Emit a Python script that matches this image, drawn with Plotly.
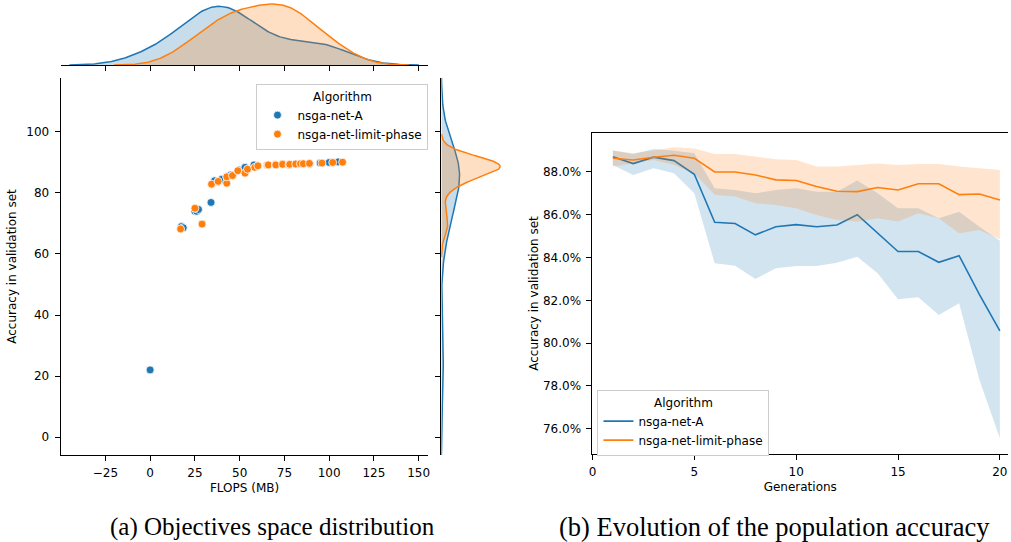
import numpy as np
import plotly.graph_objects as go

# ---------------- data ----------------
algorithms = ["nsga-net-A", "nsga-net-limit-phase"]

# (a) objectives space: FLOPS (MB) vs accuracy (overlapping individuals included)
a_flops = [0, 0, 17.5, 18.5, 25, 26, 27, 29, 34, 36, 38, 40, 42.8, 45, 46, 49, 50, 53, 58, 65.5, 74,
           81.3, 89, 95, 100, 105]
a_acc = [22.0, 22.0, 69.0, 68.6, 74.0, 74.0, 74.6, 69.8, 76.9, 84.0, 83.8, 84.5, 85.3, 85.9, 85.7, 87.3, 87.5,
         88.4, 89.2, 89.2, 89.5, 89.5, 89.7, 89.8, 90.0, 90.2]

lp_flops = [17, 25, 29, 34.3, 38, 42.8, 42.8, 46, 49, 53, 54.4, 58.5, 60.2, 65.5, 66, 70, 70.2, 74,
            77.6, 78, 81.3, 84, 85.6, 89, 96, 102, 107.5]
lp_acc = [68.2, 75.0, 69.8, 82.9, 83.8, 83.2, 85.3, 85.7, 87.3, 86.5, 87.8, 88.4, 88.9, 89.2, 89.2, 89.3,
          89.2, 89.4, 89.2, 89.4, 89.5, 89.6, 89.6, 89.7, 89.8, 90.0, 90.1]

# (b) evolution of population accuracy (%)
generations = list(range(1, 21))
a_mean = [88.71, 88.39, 88.69, 88.53, 87.89, 85.65, 85.59, 85.06, 85.44, 85.54,
          85.44, 85.52, 86.00, 85.16, 84.28, 84.28, 83.78, 84.09, 82.27, 80.57]
a_high = [89.00, 88.84, 89.07, 88.99, 88.87, 87.24, 87.16, 87.00, 87.16, 87.24,
          87.08, 87.08, 87.60, 87.00, 86.30, 86.30, 85.84, 86.14, 85.44, 84.79]
a_low = [88.33, 87.86, 88.17, 87.94, 87.00, 83.73, 83.62, 83.00, 83.50, 83.61,
         83.61, 83.76, 84.04, 83.27, 82.05, 82.14, 81.32, 81.86, 78.28, 75.56]
lp_mean = [88.64, 88.56, 88.69, 88.78, 88.64, 88.00, 88.00, 87.86, 87.63, 87.60,
           87.32, 87.10, 87.08, 87.27, 87.16, 87.45, 87.45, 86.94, 86.97, 86.69]
lp_high = [89.00, 88.87, 89.00, 89.15, 89.10, 88.84, 88.84, 88.71, 88.59, 88.56,
           88.25, 88.25, 88.33, 88.40, 88.33, 88.37, 88.37, 88.25, 88.17, 88.09]
lp_low = [88.25, 88.40, 88.56, 88.33, 87.94, 86.93, 86.85, 86.54, 86.46, 86.30,
          85.99, 85.76, 85.68, 85.84, 85.68, 86.07, 85.84, 85.13, 85.29, 84.85]

flops_ticks = [-25, 0, 25, 50, 75, 100, 125, 150]
acc_ticks = [0, 20, 40, 60, 80, 100]
gen_ticks = [0, 5, 10, 15, 20]
pct_ticks = [76, 78, 80, 82, 84, 86, 88]

# ---------------- style ----------------
BLUE = "#1f77b4"
ORANGE = "#ff7f0e"
BLUE_F = "rgba(31,119,180,0.25)"
ORANGE_F = "rgba(255,127,14,0.25)"
BLUE_B = "rgba(31,119,180,0.2)"
ORANGE_B = "rgba(255,127,14,0.2)"
FONT = "DejaVu Sans"
FS = 12
W, H = 1011, 542


def px_x(p):
    return p / W


def px_y(p):
    return 1 - p / H


def kde(values, n_total, cut=3, gridsize=200):
    v = np.asarray(values, float)
    n = len(v)
    bw = v.std(ddof=1) * n ** (-1 / 5)
    grid = np.linspace(v.min() - cut * bw, v.max() + cut * bw, gridsize)
    dens = np.exp(-0.5 * ((grid[:, None] - v[None, :]) / bw) ** 2).sum(1) / (n * bw * np.sqrt(2 * np.pi))
    return grid, dens * n / n_total


n_all = len(a_flops) + len(lp_flops)

fig = go.Figure()

# scatter
for xs, ys, col, name in [(a_flops, a_acc, BLUE, algorithms[0]), (lp_flops, lp_acc, ORANGE, algorithms[1])]:
    fig.add_trace(go.Scatter(x=xs, y=ys, mode="markers", name=name,
                             marker=dict(color=col, size=8, line=dict(color="white", width=0.8)),
                             xaxis="x", yaxis="y", legend="legend"))

# marginal KDEs
maxx = 0
maxy = 0
for xs, ys, col, fcol in [(a_flops, a_acc, BLUE, BLUE_F), (lp_flops, lp_acc, ORANGE, ORANGE_F)]:
    gx, dx = kde(xs, n_all)
    gy, dy = kde(ys, n_all)
    maxx = max(maxx, dx.max())
    maxy = max(maxy, dy.max())
    fig.add_trace(go.Scatter(x=gx, y=dx, mode="lines", fill="tozeroy", fillcolor=fcol,
                             line=dict(color=col, width=1.5), showlegend=False,
                             xaxis="x2", yaxis="y2", hoverinfo="skip"))
    fig.add_trace(go.Scatter(x=dy, y=gy, mode="lines", fill="tozerox", fillcolor=fcol,
                             line=dict(color=col, width=1.5), showlegend=False,
                             xaxis="x3", yaxis="y3", hoverinfo="skip"))

# line chart with bands
for mean, lo, hi, col, bcol, name in [(a_mean, a_low, a_high, BLUE, BLUE_B, algorithms[0]),
                                      (lp_mean, lp_low, lp_high, ORANGE, ORANGE_B, algorithms[1])]:
    fig.add_trace(go.Scatter(x=generations, y=hi, mode="lines", line=dict(width=0, color=bcol),
                             showlegend=False, xaxis="x4", yaxis="y4", hoverinfo="skip"))
    fig.add_trace(go.Scatter(x=generations, y=lo, mode="lines", line=dict(width=0, color=bcol),
                             fill="tonexty", fillcolor=bcol,
                             showlegend=False, xaxis="x4", yaxis="y4", hoverinfo="skip"))
    fig.add_trace(go.Scatter(x=generations, y=mean, mode="lines", name=name,
                             line=dict(color=col, width=1.6), xaxis="x4", yaxis="y4", legend="legend2"))

axis_common = dict(showgrid=False, zeroline=False, showline=True, linecolor="black", linewidth=1,
                   ticks="outside", ticklen=5, tickwidth=1, tickcolor="black",
                   tickfont=dict(family=FONT, size=FS, color="black"))

xr = [-50, 155.5]
yr = [-5.9, 117.7]
main_y_dom = [px_y(455), px_y(78)]

fig.update_layout(
    width=W, height=H, margin=dict(l=0, r=0, t=0, b=0),
    paper_bgcolor="white", plot_bgcolor="white",
    font=dict(family=FONT, size=FS, color="black"),
    xaxis=dict(domain=[px_x(57), px_x(427)], range=xr, tickvals=flops_ticks,
               ticktext=[str(t).replace("-", "\u2212") for t in flops_ticks], anchor="y",
               ticklabelstandoff=2,
               title=dict(text="FLOPS (MB)", font=dict(family=FONT, size=FS), standoff=4), **axis_common),
    yaxis=dict(domain=main_y_dom, range=yr, tickvals=acc_ticks, anchor="x", ticklabelstandoff=3,
               title=dict(text="Accuracy in validation set", font=dict(family=FONT, size=FS), standoff=7),
               **axis_common),
    xaxis2=dict(domain=[px_x(57), px_x(427)], range=xr, tickvals=flops_ticks, showticklabels=False,
                anchor="y2", **axis_common),
    yaxis2=dict(domain=[px_y(65), px_y(1)], range=[0, maxx * 1.05], visible=False, anchor="x2"),
    xaxis3=dict(domain=[px_x(440), px_x(502)], range=[0, maxy * 1.05], visible=False, anchor="y3"),
    yaxis3=dict(domain=main_y_dom, range=yr, tickvals=acc_ticks, showticklabels=False,
                anchor="x3", **axis_common),
    xaxis4=dict(domain=[px_x(592), px_x(1010)], range=[0, 20.4], tickvals=gen_ticks, anchor="y4",
                mirror=True, ticklabelstandoff=2,
                title=dict(text="Generations", font=dict(family=FONT, size=FS), standoff=4), **axis_common),
    yaxis4=dict(domain=[px_y(454), px_y(133)], range=[74.82, 89.82], tickvals=pct_ticks,
                ticktext=[f"{v:.1f}%" for v in pct_ticks], anchor="x4", ticklabelstandoff=3,
                title=dict(text="Accuracy in validation set", font=dict(family=FONT, size=FS), standoff=1),
                **axis_common),
    legend=dict(x=px_x(254), y=px_y(84), xanchor="left", yanchor="top", bgcolor="white",
                bordercolor="#cccccc", borderwidth=1, font=dict(family=FONT, size=FS), traceorder="normal",
                title=dict(text="Algorithm", side="top center", font=dict(family=FONT, size=FS))),
    legend2=dict(x=px_x(597), y=px_y(390), xanchor="left", yanchor="top", bgcolor="white",
                 bordercolor="#cccccc", borderwidth=1, font=dict(family=FONT, size=FS), traceorder="normal",
                 title=dict(text="Algorithm", side="top center", font=dict(family=FONT, size=FS))),
    annotations=[
        dict(text="(a) Objectives space distribution", x=px_x(270), y=px_y(527), xref="paper", yref="paper",
             showarrow=False, xanchor="center", yanchor="middle",
             font=dict(family="Liberation Serif", size=25, color="black")),
        dict(text="(b) Evolution of the population accuracy", x=px_x(775), y=px_y(527), xref="paper",
             yref="paper", showarrow=False, xanchor="center", yanchor="middle",
             font=dict(family="Liberation Serif", size=26.5, color="black")),
    ],
)

fig.write_html("out.html", config={"displayModeBar": False},
               post_script="document.body.style.margin='0';document.body.style.padding='0';")
